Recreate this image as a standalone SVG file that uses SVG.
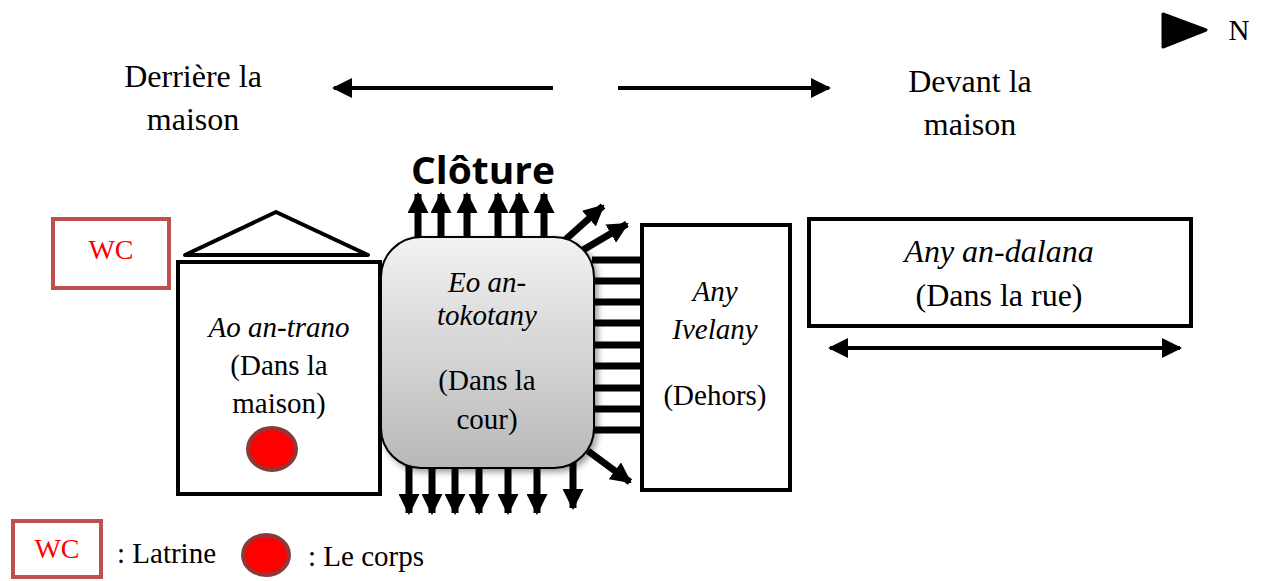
<svg xmlns="http://www.w3.org/2000/svg" width="1265" height="581" viewBox="0 0 1265 581">
<style>
.t{font-family:"Liberation Serif","Times New Roman",serif;font-size:29px;fill:#000;text-anchor:middle}
.big{font-size:32px}
.i{font-style:italic}
.s{text-anchor:start}
.box{fill:#fff;stroke:#000;stroke-width:4}
.wc{fill:#fff;stroke:#c0504d;stroke-width:4}
.wct{font-family:"Liberation Serif",serif;font-size:28px;fill:#ff0000;text-anchor:middle}
.body{fill:#ff0000;stroke:#8b3a3a;stroke-width:4}
.bar{stroke:#000;stroke-width:7}
.arr{stroke:#000;stroke-width:4}
</style>
<defs>
<linearGradient id="g" x1="0" y1="0" x2="0" y2="1">
<stop offset="0" stop-color="#f2f2f2"/>
<stop offset="1" stop-color="#b8b8b8"/>
</linearGradient>
<marker id="ah" viewBox="0 0 10 10" refX="9" refY="5" markerWidth="3" markerHeight="3" orient="auto" markerUnits="strokeWidth">
<path d="M0,0 L10,5 L0,10 z" fill="#000"/>
</marker>
<marker id="ah2" viewBox="0 0 10 10" refX="9" refY="5" markerWidth="5" markerHeight="5" orient="auto-start-reverse" markerUnits="strokeWidth">
<path d="M0,0 L10,5 L0,10 z" fill="#000"/>
</marker>
<filter id="sh" x="-10%" y="-10%" width="130%" height="130%">
<feDropShadow dx="3" dy="3" stdDeviation="3" flood-color="#000" flood-opacity="0.4"/>
</filter>
</defs>

<g id="north">
<path d="M1163,14 L1206,30 L1163,47 z" fill="#000" stroke="#000" stroke-width="3" stroke-linejoin="round"/>
<text x="1239" y="40" class="t" font-size="27">N</text>
</g>

<g id="direction-labels">
<text x="193" y="87" class="t big">Derrière la</text>
<text x="193" y="130" class="t big">maison</text>
<text x="970" y="92" class="t big">Devant la</text>
<text x="970" y="135" class="t big">maison</text>
</g>

<g id="connectors">
<line x1="553" y1="88" x2="334" y2="88" class="arr" marker-end="url(#ah2)"/>
<line x1="618" y1="88" x2="829" y2="88" class="arr" marker-end="url(#ah2)"/>
<line x1="830" y1="348" x2="1180" y2="348" class="arr" marker-start="url(#ah2)" marker-end="url(#ah2)"/>
</g>

<g id="wc">
<rect x="53" y="219" width="116" height="69" class="wc"/>
<text x="111" y="259" class="wct">WC</text>
</g>

<g id="ao-an-trano">
<path d="M185,255 L276,212 L368,255 z" fill="#fff" stroke="#000" stroke-width="4" stroke-linejoin="round"/>
<rect x="178" y="262" width="202" height="232" class="box"/>
<text x="279" y="337" class="t i">Ao an-trano</text>
<text x="279" y="375" class="t">(Dans la</text>
<text x="279" y="413" class="t">maison)</text>
<ellipse cx="272" cy="449" rx="24" ry="21" class="body"/>
</g>

<g id="cloture">
<text x="483" y="184" font-family="'Open Sans','Liberation Sans',sans-serif" font-weight="bold" font-size="37" text-anchor="middle" textLength="144" lengthAdjust="spacingAndGlyphs">Clôture</text>
<g class="fence">
<line x1="418" y1="240" x2="418" y2="194" class="bar" marker-end="url(#ah)"/>
<line x1="441" y1="240" x2="441" y2="194" class="bar" marker-end="url(#ah)"/>
<line x1="467" y1="240" x2="467" y2="194" class="bar" marker-end="url(#ah)"/>
<line x1="498" y1="240" x2="498" y2="194" class="bar" marker-end="url(#ah)"/>
<line x1="519" y1="240" x2="519" y2="194" class="bar" marker-end="url(#ah)"/>
<line x1="544" y1="240" x2="544" y2="194" class="bar" marker-end="url(#ah)"/>
<line x1="565" y1="240" x2="603" y2="206" class="bar" marker-end="url(#ah)"/>
<line x1="583" y1="250" x2="627" y2="224" class="bar" marker-end="url(#ah)"/>
<line x1="588" y1="451" x2="630" y2="482" class="bar" marker-end="url(#ah)"/>
<line x1="409" y1="466" x2="409" y2="513" class="bar" marker-end="url(#ah)"/>
<line x1="432" y1="466" x2="432" y2="513" class="bar" marker-end="url(#ah)"/>
<line x1="455" y1="466" x2="455" y2="513" class="bar" marker-end="url(#ah)"/>
<line x1="479" y1="466" x2="479" y2="513" class="bar" marker-end="url(#ah)"/>
<line x1="508" y1="466" x2="508" y2="513" class="bar" marker-end="url(#ah)"/>
<line x1="537" y1="466" x2="537" y2="513" class="bar" marker-end="url(#ah)"/>
<line x1="573" y1="462" x2="573" y2="508" class="bar" marker-end="url(#ah)"/>
<line x1="592" y1="260" x2="643" y2="260" class="bar"/>
<line x1="592" y1="281" x2="643" y2="281" class="bar"/>
<line x1="592" y1="302" x2="643" y2="302" class="bar"/>
<line x1="592" y1="323" x2="643" y2="323" class="bar"/>
<line x1="592" y1="345" x2="643" y2="345" class="bar"/>
<line x1="592" y1="366" x2="643" y2="366" class="bar"/>
<line x1="592" y1="388" x2="643" y2="388" class="bar"/>
<line x1="592" y1="409" x2="643" y2="409" class="bar"/>
<line x1="592" y1="430" x2="643" y2="430" class="bar"/>
</g>
</g>

<g id="eo-an-tokotany">
<rect x="381" y="237" width="213" height="231" rx="40" ry="40" fill="url(#g)" stroke="#000" stroke-width="2" filter="url(#sh)"/>
<text x="487" y="292" class="t i">Eo an-</text>
<text x="487" y="325" class="t i">tokotany</text>
<text x="487" y="390" class="t">(Dans la</text>
<text x="487" y="429" class="t">cour)</text>
</g>

<g id="any-ivelany">
<rect x="642" y="225" width="148" height="265" class="box" stroke-width="3"/>
<text x="715" y="301" class="t i">Any</text>
<text x="715" y="339" class="t i">Ivelany</text>
<text x="715" y="405" class="t">(Dehors)</text>
</g>

<g id="any-an-dalana">
<rect x="809" y="219" width="382" height="107" class="box"/>
<text x="999" y="262" class="t i big">Any an-dalana</text>
<text x="999" y="306" class="t big">(Dans la rue)</text>
</g>

<g id="legend">
<rect x="13" y="521" width="88" height="56" class="wc"/>
<text x="57" y="558" class="wct" font-size="25">WC</text>
<text x="117" y="563" class="t s">: Latrine</text>
<ellipse cx="266" cy="555" rx="23" ry="20" class="body"/>
<text x="308" y="566" class="t s">: Le corps</text>
</g>
</svg>
